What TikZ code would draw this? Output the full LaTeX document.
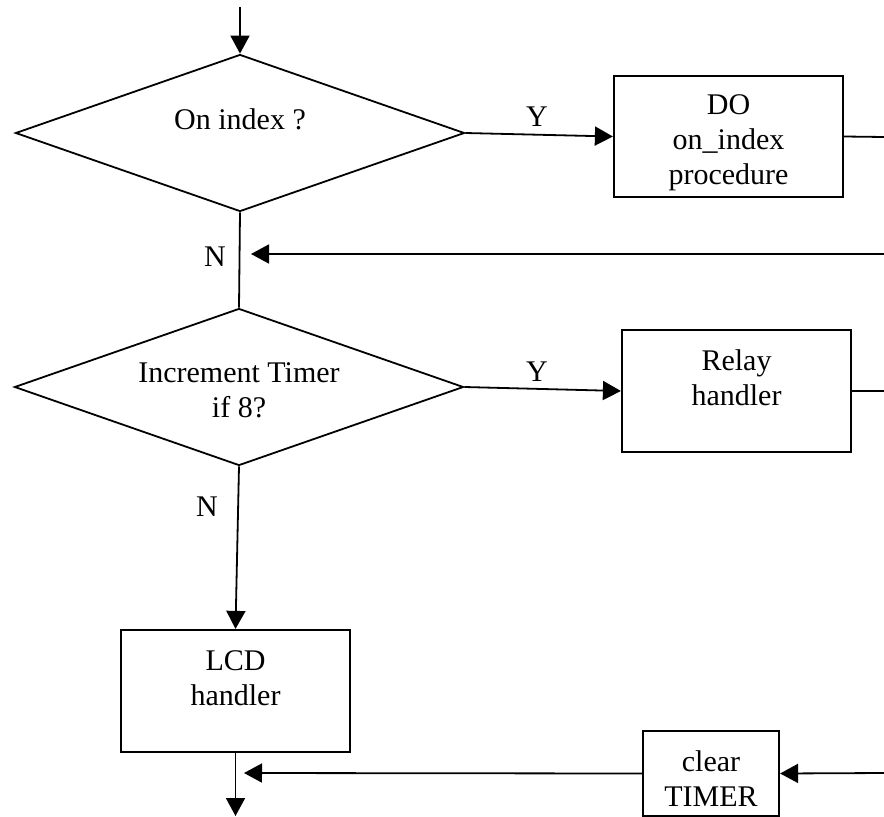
\documentclass[tikz,border=0pt]{standalone}
\usepackage{fontspec}
\setmainfont{Liberation Serif}
\usetikzlibrary{shapes.geometric,arrows.meta}
\begin{document}
\begin{tikzpicture}[x=1pt,y=-1pt,
  line width=1.8pt,
  txt/.style={font=\fontsize{30}{35}\selectfont, inner sep=0pt, align=center},
  decision/.style={draw, diamond, inner sep=0pt, minimum width=449pt, minimum height=157pt},
  procbox/.style={draw, rectangle, inner sep=0pt, line width=2.2pt, minimum width=229pt, minimum height=122pt},
  flow/.style={-{Triangle[length=18pt,width=19pt]}},
]
\useasboundingbox (0,0) rectangle (884,817);

% decisions
\node[decision] (d1) at (240,133) {};
\node[txt, anchor=north] (d1t) at (240,108) {On index ?};
\node[decision] (d2) at (239,387) {};
\node[txt, anchor=north] (d2t) at (239,362) {Increment Timer\\if 8?};

% process boxes
\node[procbox, minimum height=121pt] (do) at (728.5,136.5) {};
\node[txt, anchor=north] (dot) at (728.5,94) {DO\\on\_index\\procedure};
\node[procbox] (relay) at (736.5,391) {};
\node[txt, anchor=north] (relayt) at (736.5,349) {Relay\\handler};
\node[procbox] (lcd) at (235.5,691) {};
\node[txt, anchor=north] (lcdt) at (235.5,650) {LCD\\handler};
\node[procbox, minimum width=136pt, minimum height=85pt] (clr) at (711,773.5) {};
\node[txt, anchor=north] (clrt) at (711,750) {clear\\TIMER};

% branch labels
\node[txt] (y1) at (537,117) {Y};
\node[txt] (y2) at (537,372) {Y};
\node[txt] (n1) at (215,257) {N};
\node[txt] (n2) at (207,507) {N};

% free ends of connectors
\coordinate (entry) at (240,7);
\coordinate (doout) at (884,137);
\coordinate (back1) at (884,254);
\coordinate (join1) at (251,254);
\coordinate (relayout) at (884,391);
\coordinate (back2) at (884,773);
\coordinate (join2) at (244,773);
\coordinate (exit) at (235.5,816);

% connectors
\draw[flow] (entry) -- (d1.north);
\draw[flow] (d1.east) -- (do.west);
\draw (do.east) -- (doout);
\draw[flow] (back1) -- (join1);
\draw (d1.south) -- (d2.north);
\draw[flow] (d2.east) -- (relay.west);
\draw (relay.east) -- (relayout);
\draw[flow] (d2.south) -- (lcd.north);
\draw[flow] (lcd.south) -- (exit);
\draw[flow] (back2) -- (clr.east);
\draw[flow] (clr.west) -- (join2);
\end{tikzpicture}
\end{document}
